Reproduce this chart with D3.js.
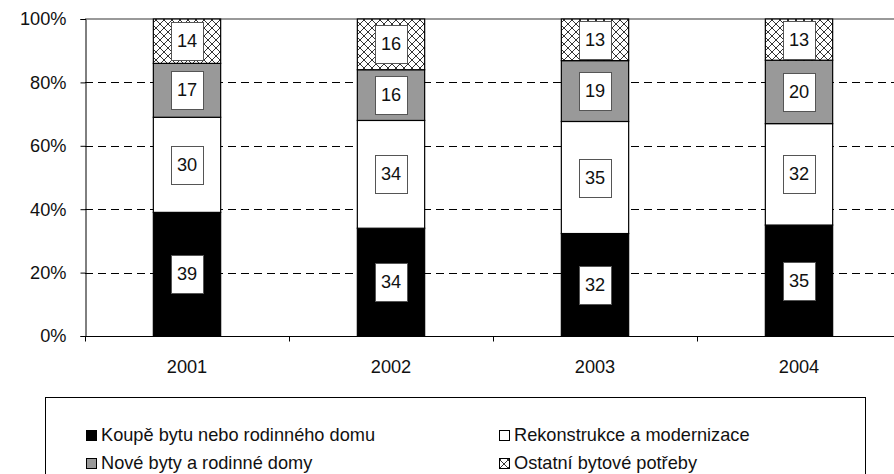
<!DOCTYPE html>
<html>
<head>
<meta charset="utf-8">
<script src="https://cdn.jsdelivr.net/npm/d3@7"></script>
<style>
  body { margin: 0; background: #fff; }
  svg { font-family: "Liberation Sans", Arial, sans-serif; }
</style>
</head>
<body>
<div id="chart"></div>
<script>
// data
var years = ["2001", "2002", "2003", "2004"];
var seriesNames = ["Koupě bytu nebo rodinného domu", "Rekonstrukce a modernizace", "Nové byty a rodinné domy", "Ostatní bytové potřeby"];
var koupe = [39, 34, 32, 35];
var rekonstrukce = [30, 34, 35, 32];
var nove = [17, 16, 19, 20];
var ostatni = [14, 16, 13, 13];
var yTicks = [0, 0.2, 0.4, 0.6, 0.8, 1];

var width = 894, height = 474;
var plotLeft = 85, plotTop = 19, plotBottom = 336, plotRight = 901;
var fontSize = 18.2;

var svg = d3.select("#chart").append("svg")
    .attr("width", width)
    .attr("height", height);

// crosshatch pattern
var pat = svg.append("defs").append("pattern")
    .attr("id", "hatch")
    .attr("patternUnits", "userSpaceOnUse")
    .attr("width", 8).attr("height", 8);
pat.append("rect").attr("width", 8).attr("height", 8).attr("fill", "#fff");
pat.append("path").attr("d", "M0,0L8,8M8,0L0,8")
    .attr("stroke", "#000").attr("stroke-width", 0.8);

var fills = ["#000", "#fff", "#999", "url(#hatch)"];

var rows = years.map(function(yr, i) {
    var vals = [koupe[i], rekonstrukce[i], nove[i], ostatni[i]];
    var total = d3.sum(vals);
    var obj = { year: yr };
    seriesNames.forEach(function(s, j) { obj[s] = vals[j] / total; obj["v" + j] = vals[j]; });
    return obj;
});

var stack = d3.stack().keys(seriesNames)(rows);

var x = d3.scaleBand().domain(years).range([plotLeft, plotRight]);
var y = d3.scaleLinear().domain([0, 1]).range([plotBottom, plotTop]);
var barW = x.bandwidth() * 0.33;

// grid lines
svg.append("g").selectAll("line")
    .data([0.2, 0.4, 0.6, 0.8]).enter().append("line")
    .attr("x1", plotLeft).attr("x2", width)
    .attr("y1", function(d) { return Math.round(y(d)) + 0.5; })
    .attr("y2", function(d) { return Math.round(y(d)) + 0.5; })
    .attr("stroke", "#000")
    .attr("stroke-dasharray", "8,5");

// plot area top border
svg.append("line")
    .attr("x1", plotLeft).attr("x2", width)
    .attr("y1", plotTop).attr("y2", plotTop)
    .attr("stroke", "#999").attr("stroke-width", 2);

// bars
var layers = svg.append("g").selectAll("g")
    .data(stack).enter().append("g")
    .attr("fill", function(d, i) { return fills[i]; });

layers.selectAll("rect")
    .data(function(d) { return d; }).enter().append("rect")
    .attr("x", function(d) { return x(d.data.year) + (x.bandwidth() - barW) / 2; })
    .attr("y", function(d) { return y(d[1]); })
    .attr("width", barW)
    .attr("height", function(d) { return y(d[0]) - y(d[1]); })
    .attr("stroke", "#000")
    .attr("stroke-width", 1.2);

// segment labels
stack.forEach(function(layer, j) {
    var g = svg.append("g");
    layer.forEach(function(d) {
        var cx = x(d.data.year) + x.bandwidth() / 2;
        var cy = (y(d[0]) + y(d[1])) / 2;
        g.append("rect")
            .attr("x", Math.round(cx - 16) + 0.5).attr("y", Math.round(cy - 19) + 0.5)
            .attr("width", 32).attr("height", 38)
            .attr("fill", "#fff")
            .attr("stroke", "#555").attr("stroke-width", 1);
        g.append("text")
            .attr("x", cx).attr("y", cy)
            .attr("text-anchor", "middle")
            .attr("dominant-baseline", "central")
            .attr("font-size", fontSize)
            .attr("fill", "#111")
            .text(d.data["v" + j]);
    });
});

// y axis
var yAxis = d3.axisLeft(y).tickValues(yTicks).tickSize(5).tickPadding(14)
    .tickFormat(d3.format(".0%"));
var ya = svg.append("g")
    .attr("transform", "translate(" + (plotLeft + 0.5) + ",0)")
    .call(yAxis);
ya.select(".domain").attr("stroke", "#000");
ya.selectAll("text").attr("font-size", fontSize).attr("font-family", "Liberation Sans, Arial, sans-serif").attr("fill", "#111");

// x axis
var xa = svg.append("g")
    .attr("transform", "translate(0," + (plotBottom + 0.5) + ")");
xa.append("line").attr("x1", plotLeft).attr("x2", width).attr("stroke", "#000");
xa.selectAll(".tk").data(years).enter().append("line")
    .attr("class", "tk")
    .attr("x1", function(d) { return x(d) + 0.5; })
    .attr("x2", function(d) { return x(d) + 0.5; })
    .attr("y1", 0).attr("y2", 5)
    .attr("stroke", "#000");
xa.selectAll("text").data(years).enter().append("text")
    .attr("x", function(d) { return x(d) + x.bandwidth() / 2; })
    .attr("y", 30)
    .attr("text-anchor", "middle")
    .attr("dominant-baseline", "central")
    .attr("font-size", fontSize)
    .attr("fill", "#111")
    .text(function(d) { return d; });

// legend
var legend = svg.append("g");
legend.append("rect")
    .attr("x", 45.5).attr("y", 397.5)
    .attr("width", 820).attr("height", 120)
    .attr("fill", "#fff").attr("stroke", "#000");

var legendPos = [[86, 435], [499, 435], [86, 463], [499, 463]];
seriesNames.forEach(function(s, i) {
    var p = legendPos[i];
    legend.append("rect")
        .attr("x", p[0] + 0.5).attr("y", p[1] - 4.5)
        .attr("width", 10).attr("height", 10)
        .attr("fill", fills[i]).attr("stroke", "#000");
    legend.append("text")
        .attr("x", p[0] + 15).attr("y", p[1])
        .attr("dominant-baseline", "central")
        .attr("font-size", fontSize)
        .attr("fill", "#111")
        .text(s);
});
</script>
</body>
</html>
